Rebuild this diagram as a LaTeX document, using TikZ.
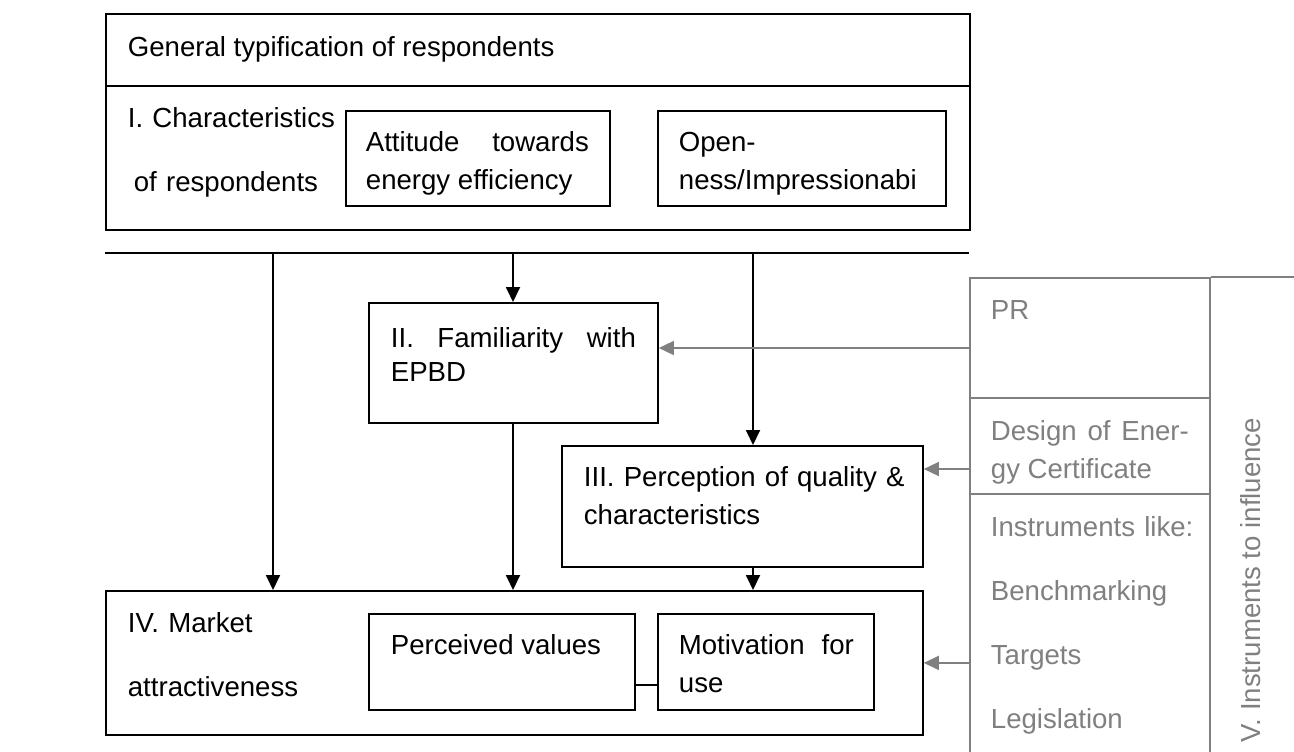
\documentclass[tikz,border=0pt]{standalone}
\usepackage{fontspec}
\setmainfont{Liberation Sans}
\usetikzlibrary{arrows.meta}
\definecolor{panelgrey}{RGB}{128,128,128}

\begin{document}
\begin{tikzpicture}[x=0.5pt, y=-0.5pt, line width=0.9pt,
    every node/.style={font=\fontsize{13.8}{19}\selectfont, inner sep=0pt},
    box/.style={draw, anchor=north west},
    cell/.style={draw=panelgrey, line width=0.75pt, anchor=north west},
    txt/.style={anchor=base west, align=left},
    wide/.style={font=\fontsize{13.8}{32}\selectfont},
    lines/.style={align=left, text width=#1},
    just/.style={align=justify, text width=#1},
    flow/.style={-{Triangle[length=7.5pt,width=7pt]}},
    infl/.style={panelgrey, line width=0.75pt, -{Triangle[length=7.5pt,width=7pt]}}]
  \useasboundingbox (0,0) rectangle (1294,751);

  % typification block
  \node[box, minimum width=432pt, minimum height=36pt] (head) at (105,13) {};
  \node[box, minimum width=432pt, minimum height=72pt] (chars) at (105,85) {};
  \node[box, minimum width=132pt, minimum height=47.5pt] (att) at (345,110) {};
  \node[box, minimum width=144pt, minimum height=47.5pt] (open) at (657,110) {};
  \node[txt] (tHead) at (127,56) {General typification of respondents};
  \node[txt, wide, lines=120pt] (tChars) at (127,127) {I. Characteristics\\\hspace*{3pt}of respondents};
  \node[txt, just=111.5pt] (tAtt) at (365,151) {Attitude towards\linebreak energy efficiency};
  \node[txt, lines=130pt] (tOpen) at (678,151) {Open-\\ness/Impressionabi};

  % familiarity and perception
  \coordinate (busL) at (105,253);
  \coordinate (busR) at (969,253);
  \draw (busL) -- (busR);
  \node[box, minimum width=144.5pt, minimum height=60pt] (fam) at (368,302) {};
  \node[box, minimum width=180.5pt, minimum height=60.5pt] (perc) at (561,445) {};
  \node[txt, just=122.5pt, font=\fontsize{13.8}{17}\selectfont] (tFam) at (390,347) {II. Familiarity with\linebreak EPBD};
  \node[txt, lines=170pt] (tPerc) at (583,486) {III. Perception of quality \&\\characteristics};

  % market attractiveness
  \node[box, minimum width=408.5pt, minimum height=72pt] (market) at (105,590) {};
  \node[box, minimum width=133pt, minimum height=48pt] (val) at (368,613) {};
  \node[box, minimum width=108pt, minimum height=48pt] (mot) at (657,613) {};
  \node[txt, wide, lines=120pt] (tMarket) at (127,632) {IV. Market\\attractiveness};
  \node[txt] (tVal) at (390,654) {Perceived values};
  \node[txt, just=87.5pt] (tMot) at (678,654) {Motivation for\linebreak use};
  \coordinate (vm) at (634,685);
  \draw (vm) -- (vm -| mot.west);

  % black arrows
  \coordinate (b1) at (273,253);
  \coordinate (b2) at (513,253);
  \coordinate (b3) at (753,253);
  \draw[flow] (b1) -- (b1 |- market.north);
  \draw[flow] (b2) -- (b2 |- fam.north);
  \draw[flow] (b3) -- (b3 |- perc.north);
  \draw[flow] (fam.south -| b2) -- (b2 |- market.north);
  \draw[flow] (perc.south -| b3) -- (b3 |- market.north);

  % instruments to influence
  \node[cell, minimum width=120pt, minimum height=60pt] (prcell) at (969,277) {};
  \node[cell, minimum width=120pt, minimum height=48pt] (dcell) at (969,397) {};
  \node[cell, minimum width=120pt, minimum height=136pt] (icell) at (969,493) {};
  \coordinate (colR) at (1294,277);
  \draw[panelgrey, line width=0.75pt] (prcell.north east) -- (colR);
  \node[txt, panelgrey] (tPR) at (990,319) {PR};
  \node[txt, panelgrey, just=99pt] (tDes) at (990,440) {Design of Ener-\linebreak gy Certificate};
  \node[txt, panelgrey, wide, lines=110pt] (tIns) at (990,536) {Instruments like:\\Benchmarking\\Targets\\Legislation};
  \node[anchor=base west, rotate=90, panelgrey] (tV) at (1260,743) {V. Instruments to influence};

  % grey arrows
  \coordinate (a1) at (969,348);
  \coordinate (a2) at (969,469);
  \draw[infl] (a1) -- (a1 -| fam.east);
  \draw[infl] (a2) -- (a2 -| perc.east);
  \draw[infl] (icell.west |- market.east) -- (market.east);
\end{tikzpicture}
\end{document}
